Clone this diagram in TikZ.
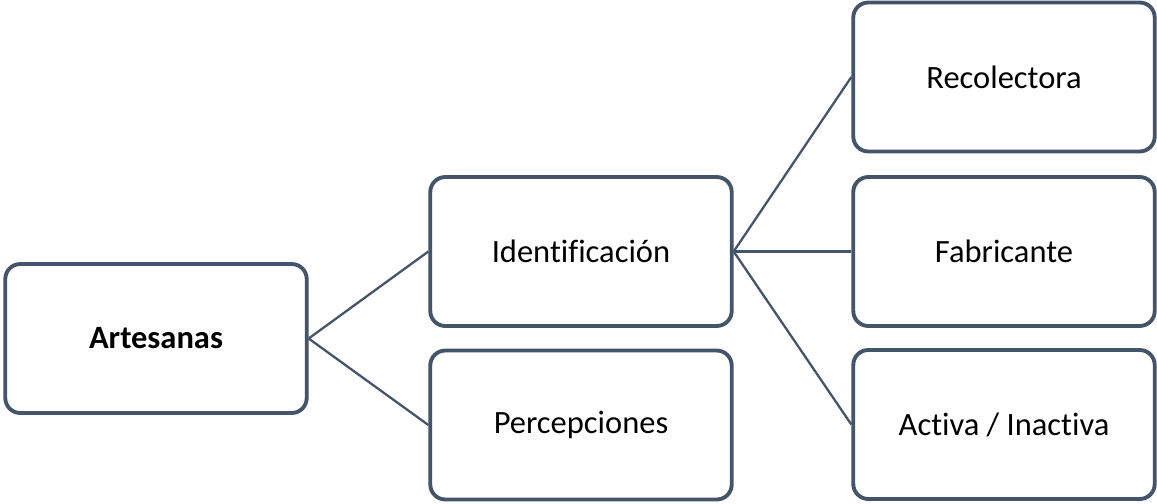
\documentclass[tikz,border=0pt]{standalone}
\usepackage{fontspec}
\setmainfont{Carlito}[Ligatures=NoCommon]
\usepackage{tikz}
\usetikzlibrary{positioning}
\definecolor{slate}{HTML}{44546A}

\begin{document}
\begin{tikzpicture}[x=0.02cm,y=-0.02cm,
        box/.style={draw=slate,line width=2.2pt,rounded corners=0.3cm,fill=white,
            minimum width=6.03cm,minimum height=2.98cm,inner sep=0pt,
            font=\fontsize{18.5}{22}\selectfont},
        link/.style={draw=slate,line width=1.3pt}]
        \useasboundingbox (0,0) rectangle (1157,504);

        \node[box] (art) at (156,338.5) {\textbf{Artesanas}};
        \node[box] (ident) at (581,251.5) {Identificación};
        \node[box] (perc) at (581,425) {Percepciones};

        \node[box] (recol) at (1004,77) {Recolectora};
        \node[box] (fabr) at (1004,251.5) {Fabricante};
        \node[box] (activ) at (1004,424.5) {Activa / Inactiva};

        \draw[link] (art.east) -- (ident.west);
        \draw[link] (art.east) -- (perc.west);

        \draw[link] (ident.east) -- (recol.west);
        \draw[link] (ident.east) -- (fabr.west);
        \draw[link] (ident.east) -- (activ.west);
    \end{tikzpicture}
\end{document}
